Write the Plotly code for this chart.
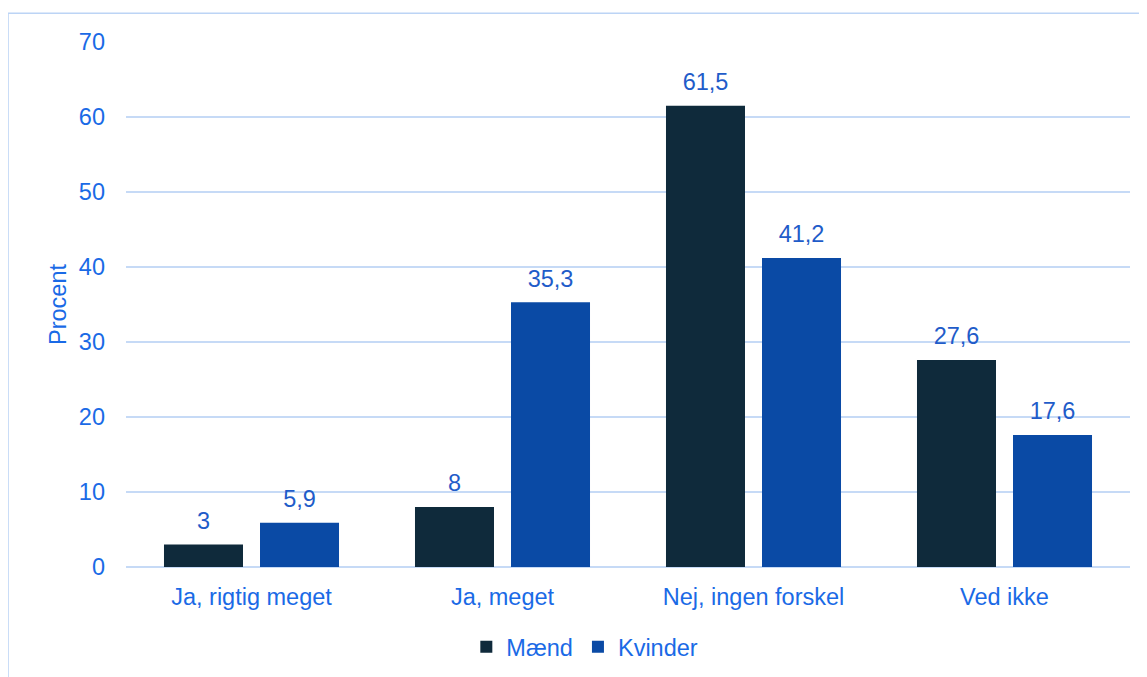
import plotly.graph_objects as go

categories = ["Ja, rigtig meget", "Ja, meget", "Nej, ingen forskel", "Ved ikke"]
maend = [3, 8, 61.5, 27.6]
kvinder = [5.9, 35.3, 41.2, 17.6]
y_ticks = [0, 10, 20, 30, 40, 50, 60, 70]


def fmt(v):
    return f"{v:g}".replace(".", ",")


FONT = "Liberation Sans, Arial, sans-serif"
FS = 23.5
TICK_COLOR = "#1a6ae6"
LABEL_COLOR = "#1f5cc9"
GRID = "#c6daf6"
BARGAP = 0.235

fig = go.Figure()
for name, vals, color, grp in [("Mænd", maend, "#0f2a3b", "m"), ("Kvinder", kvinder, "#0a4aa5", "k")]:
    fig.add_trace(go.Bar(
        name=name, x=categories, y=vals,
        marker=dict(color=color, line=dict(width=0)),
        offsetgroup=grp, hoverinfo="skip",
    ))
for name, vals, grp in [("Mænd", maend, "m"), ("Kvinder", kvinder, "k")]:
    fig.add_trace(go.Scatter(
        name=name + " labels", x=categories, y=vals, mode="markers+text",
        text=[fmt(v) for v in vals], textposition="top center",
        textfont=dict(size=FS, color=LABEL_COLOR, family=FONT),
        marker=dict(size=14, opacity=0),
        offsetgroup=grp, showlegend=False, cliponaxis=False, hoverinfo="skip",
    ))

fig.update_layout(
    width=1139, height=677,
    margin=dict(l=118, r=17, t=34, b=118),
    paper_bgcolor="white", plot_bgcolor="white",
    barmode="group", bargap=BARGAP, bargroupgap=0.177,
    scattermode="group", scattergap=BARGAP,
    font=dict(family=FONT, size=FS, color=TICK_COLOR),
    showlegend=True,
    legend=dict(orientation="h", x=0.457, xanchor="center", y=-80 / 525, yanchor="middle",
                font=dict(size=FS, color=TICK_COLOR), itemwidth=30,
                traceorder="normal"),
    xaxis=dict(showgrid=False, showline=False, ticks="", ticklabelstandoff=13,
               tickfont=dict(size=FS, color=TICK_COLOR)),
    yaxis=dict(range=[0, 70], tickvals=y_ticks, showgrid=True, gridcolor=GRID, gridwidth=1.5,
               zeroline=True, zerolinecolor=GRID, zerolinewidth=2,
               tickfont=dict(size=FS, color=TICK_COLOR), ticks="", ticklabelstandoff=20,
               title=dict(text="Procent", font=dict(size=FS, color=TICK_COLOR), standoff=5)),
    shapes=[dict(type="rect", xref="paper", yref="paper",
                 x0=-0.1175, x1=1.2, y0=-0.5, y1=1.055,
                 line=dict(color="#bcd4f5", width=1.5), fillcolor="rgba(0,0,0,0)", layer="below")],
)

fig.write_html("out.html")
